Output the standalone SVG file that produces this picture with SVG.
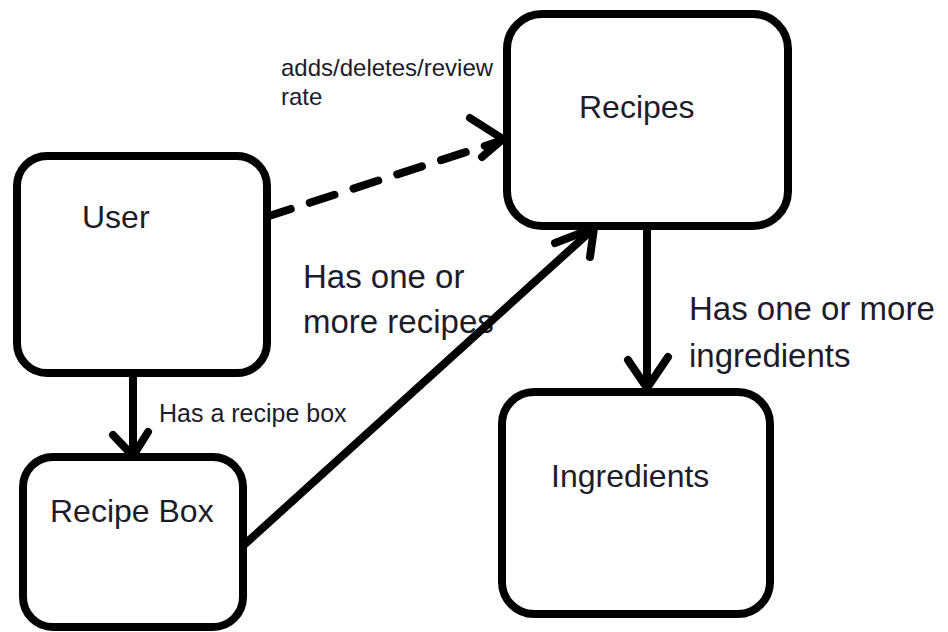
<svg xmlns="http://www.w3.org/2000/svg" width="948" height="632" viewBox="0 0 948 632">
  <style>
    .box { fill: #ffffff; stroke: #000000; stroke-width: 8; }
    .line { fill: none; stroke: #000000; stroke-width: 8; stroke-linecap: round; stroke-linejoin: round; }
    .dash { stroke-dasharray: 26 20; stroke-linecap: round; }
    .title { font-family: "Liberation Sans", Arial, sans-serif; font-size: 32px; fill: #1c1c2a; }
    .lbl { font-family: "Liberation Sans", Arial, sans-serif; fill: #1c1c2a; }
    .big { font-size: 33px; }
    .mid { font-size: 25px; }
    .small { font-size: 24px; }
  </style>

  <rect width="948" height="632" fill="#ffffff"/>

  <!-- relationship labels -->
  <g id="labels">
    <text class="lbl small" x="281" y="76">adds/deletes/review</text>
    <text class="lbl small" x="281" y="105">rate</text>
    <text class="lbl big" x="303" y="288">Has one or</text>
    <text class="lbl big" x="303" y="333">more recipes</text>
    <text class="lbl big" x="689" y="320">Has one or more</text>
    <text class="lbl big" x="689" y="367">ingredients</text>
    <text class="lbl mid" x="159" y="422">Has a recipe box</text>
  </g>

  <!-- connectors -->
  <g id="connectors">
    <!-- User to Recipes (dashed) -->
    <path class="line dash" d="M266 217 L500 141"/>
    <path class="line" d="M470 118 L503 139 L482 157"/>
    <!-- User to Recipe Box -->
    <path class="line" d="M133 377 L133 455"/>
    <path class="line" d="M113 435 L133 456 L148 432"/>
    <!-- Recipe Box to Recipes -->
    <path class="line" d="M245 544 L593 229"/>
    <path class="line" d="M555 243 L594 228 L590 257"/>
    <!-- Recipes to Ingredients -->
    <path class="line" d="M647 230 L647 388"/>
    <path class="line" d="M628 360 L647 388 L668 357"/>
  </g>

  <!-- nodes -->
  <g id="user">
    <rect class="box" x="17" y="156" width="250" height="217" rx="30" ry="30"/>
    <text class="title" x="82" y="228">User</text>
  </g>

  <g id="recipe-box">
    <rect class="box" x="23" y="457" width="220" height="170" rx="30" ry="30"/>
    <text class="title" x="50" y="522">Recipe Box</text>
  </g>

  <g id="recipes">
    <rect class="box" x="507" y="14" width="281" height="212" rx="35" ry="35"/>
    <text class="title" x="579" y="118">Recipes</text>
  </g>

  <g id="ingredients">
    <rect class="box" x="502" y="392" width="268" height="222" rx="32" ry="32"/>
    <text class="title" x="551" y="487">Ingredients</text>
  </g>
</svg>
